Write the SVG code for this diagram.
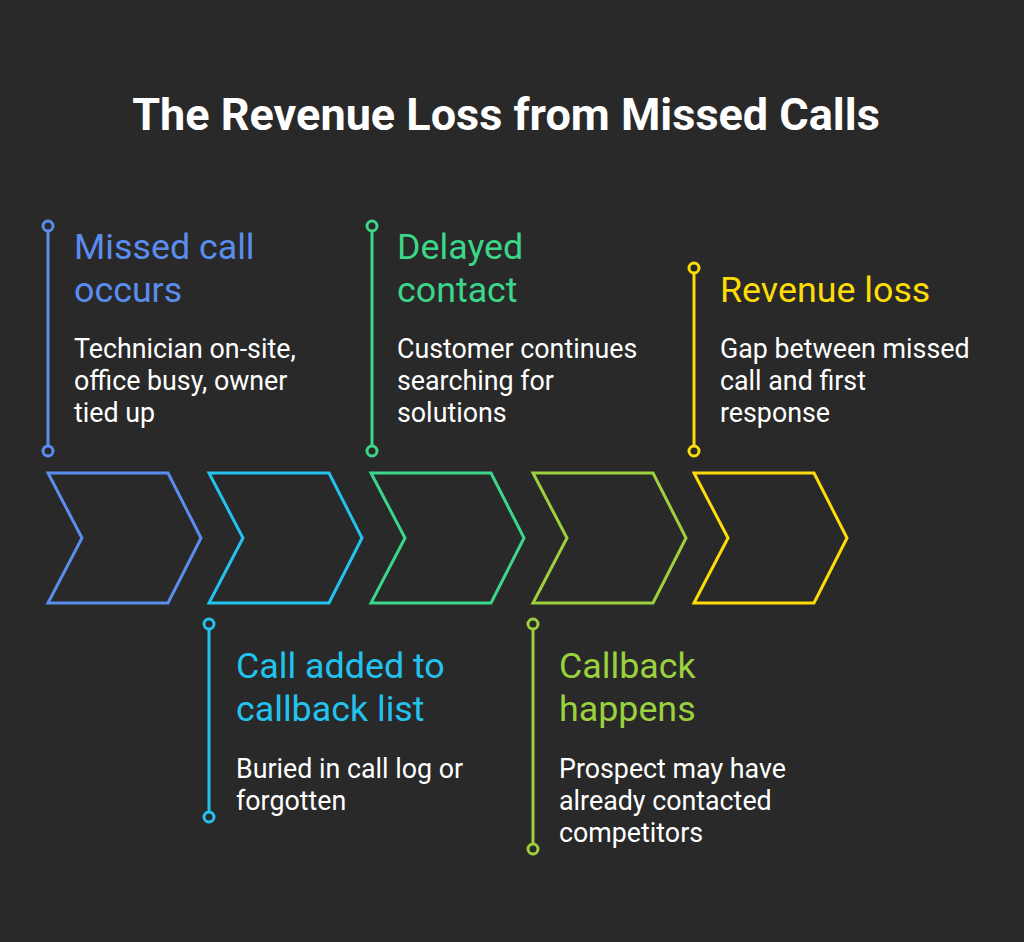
<svg xmlns="http://www.w3.org/2000/svg" width="1024" height="942" viewBox="0 0 1024 942">
<style>
.title{font-family:Roboto,"Liberation Sans",sans-serif;font-weight:700;font-size:45px;fill:#ffffff}
.head{font-family:Roboto,"Liberation Sans",sans-serif;font-size:35.8px}
.body{font-family:Roboto,"Liberation Sans",sans-serif;font-size:26.8px;fill:#ffffff}
.chev{fill:none;stroke-width:3;stroke-linejoin:miter}
.pin{stroke-width:3;fill:none}
.dot{stroke-width:3;fill:#292929}
</style>
<defs>
<polygon id="chevron" points="0,0 120,0 153,65 120,130 0,130 34,65"/>
</defs>
<rect width="1024" height="942" fill="#292929"/>
<text class="title" x="506" y="130" text-anchor="middle">The Revenue Loss from Missed Calls</text>

<g id="connectors">
<g stroke="#5A8DEE" class="pin"><line x1="48" y1="231" x2="48" y2="446"/></g>
<g stroke="#22C3EE" class="pin"><line x1="209" y1="629" x2="209" y2="812"/></g>
<g stroke="#3CD68A" class="pin"><line x1="372" y1="231" x2="372" y2="446"/></g>
<g stroke="#9BD13C" class="pin"><line x1="533" y1="629" x2="533" y2="844"/></g>
<g stroke="#FDDC0A" class="pin"><line x1="694" y1="273" x2="694" y2="446"/></g>
</g>

<g id="step1">
<use href="#chevron" x="48" y="473" class="chev" stroke="#5A8DEE"/>
<circle class="dot" stroke="#5A8DEE" cx="48" cy="226" r="5"/>
<circle class="dot" stroke="#5A8DEE" cx="48" cy="451" r="5"/>
<text class="head" fill="#5A8DEE" x="74" y="259">Missed call</text>
<text class="head" fill="#5A8DEE" x="74" y="302">occurs</text>
<text class="body" x="74" y="358">Technician on-site,</text>
<text class="body" x="74" y="390">office busy, owner</text>
<text class="body" x="74" y="422">tied up</text>
</g>

<g id="step2">
<use href="#chevron" x="209" y="473" class="chev" stroke="#22C3EE"/>
<circle class="dot" stroke="#22C3EE" cx="209" cy="624" r="5"/>
<circle class="dot" stroke="#22C3EE" cx="209" cy="817" r="5"/>
<text class="head" fill="#22C3EE" x="236" y="678">Call added to</text>
<text class="head" fill="#22C3EE" x="236" y="721">callback list</text>
<text class="body" x="236" y="778">Buried in call log or</text>
<text class="body" x="236" y="810">forgotten</text>
</g>

<g id="step3">
<use href="#chevron" x="371" y="473" class="chev" stroke="#3CD68A"/>
<circle class="dot" stroke="#3CD68A" cx="372" cy="226" r="5"/>
<circle class="dot" stroke="#3CD68A" cx="372" cy="451" r="5"/>
<text class="head" fill="#3CD68A" x="397" y="259">Delayed</text>
<text class="head" fill="#3CD68A" x="397" y="302">contact</text>
<text class="body" x="397" y="358">Customer continues</text>
<text class="body" x="397" y="390">searching for</text>
<text class="body" x="397" y="422">solutions</text>
</g>

<g id="step4">
<use href="#chevron" x="533" y="473" class="chev" stroke="#9BD13C"/>
<circle class="dot" stroke="#9BD13C" cx="533" cy="624" r="5"/>
<circle class="dot" stroke="#9BD13C" cx="533" cy="849" r="5"/>
<text class="head" fill="#9BD13C" x="559" y="678">Callback</text>
<text class="head" fill="#9BD13C" x="559" y="721">happens</text>
<text class="body" x="559" y="778">Prospect may have</text>
<text class="body" x="559" y="810">already contacted</text>
<text class="body" x="559" y="842">competitors</text>
</g>

<g id="step5">
<use href="#chevron" x="694" y="473" class="chev" stroke="#FDDC0A"/>
<circle class="dot" stroke="#FDDC0A" cx="694" cy="268" r="5"/>
<circle class="dot" stroke="#FDDC0A" cx="694" cy="451" r="5"/>
<text class="head" fill="#FDDC0A" x="720" y="302">Revenue loss</text>
<text class="body" x="720" y="358">Gap between missed</text>
<text class="body" x="720" y="390">call and first</text>
<text class="body" x="720" y="422">response</text>
</g>
</svg>
